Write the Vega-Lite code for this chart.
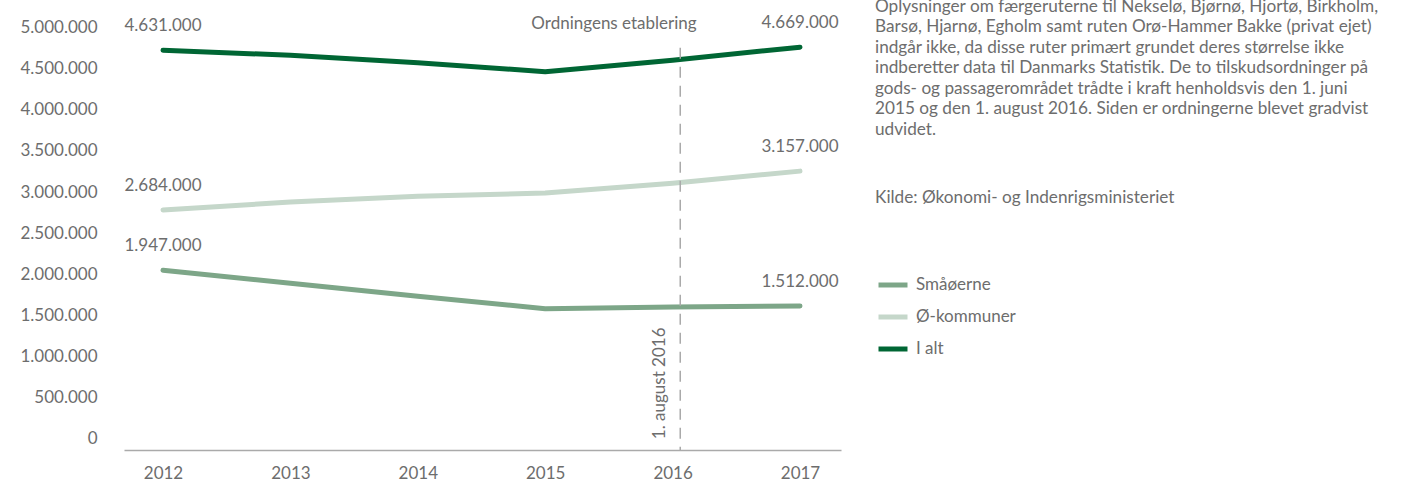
{
  "$schema": "https://vega.github.io/schema/vega-lite/v6.json",
  "width": 717,
  "height": 440,
  "autosize": {"type": "none"},
  "padding": {"left": 124, "top": 10, "right": 566, "bottom": 34},
  "background": "white",
  "config": {
    "view": {"stroke": null},
    "font": "Lato",
    "locale": {"number": {"decimal": ",", "thousands": ".", "grouping": [3], "currency": ["", " kr."]}}
  },
  "title": {
    "text": [
      "Oplysninger om færgeruterne til Nekselø, Bjørnø, Hjortø, Birkholm,",
      "Barsø, Hjarnø, Egholm samt ruten Orø-Hammer Bakke (privat ejet)",
      "indgår ikke, da disse ruter primært grundet deres størrelse ikke",
      "indberetter data til Danmarks Statistik. De to tilskudsordninger på",
      "gods- og passagerområdet trådte i kraft henholdsvis den 1. juni",
      "2015 og den 1. august 2016. Siden er ordningerne blevet gradvist",
      "udvidet."
    ],
    "subtitle": "Kilde: Økonomi- og Indenrigsministeriet",
    "anchor": "start",
    "frame": "group",
    "orient": "top",
    "baseline": "top",
    "dx": 751,
    "offset": -196,
    "font": "Lato",
    "fontSize": 17.2,
    "fontWeight": "normal",
    "color": "#6d6d6d",
    "lineHeight": 20.5,
    "subtitleFont": "Lato",
    "subtitleFontSize": 17.2,
    "subtitleColor": "#6d6d6d",
    "subtitlePadding": 51
  },
  "datasets": {
    "series": [
      {"year": 2012, "serie": "Småøerne", "value": 1947000},
      {"year": 2013, "serie": "Småøerne", "value": 1790000},
      {"year": 2014, "serie": "Småøerne", "value": 1630000},
      {"year": 2015, "serie": "Småøerne", "value": 1480000},
      {"year": 2016, "serie": "Småøerne", "value": 1500000},
      {"year": 2017, "serie": "Småøerne", "value": 1512000},
      {"year": 2012, "serie": "Ø-kommuner", "value": 2684000},
      {"year": 2013, "serie": "Ø-kommuner", "value": 2780000},
      {"year": 2014, "serie": "Ø-kommuner", "value": 2850000},
      {"year": 2015, "serie": "Ø-kommuner", "value": 2890000},
      {"year": 2016, "serie": "Ø-kommuner", "value": 3010000},
      {"year": 2017, "serie": "Ø-kommuner", "value": 3157000},
      {"year": 2012, "serie": "I alt", "value": 4631000},
      {"year": 2013, "serie": "I alt", "value": 4570000},
      {"year": 2014, "serie": "I alt", "value": 4480000},
      {"year": 2015, "serie": "I alt", "value": 4370000},
      {"year": 2016, "serie": "I alt", "value": 4510000},
      {"year": 2017, "serie": "I alt", "value": 4669000}
    ],
    "events": [
      {"label": "1. august 2016", "x": 2016.06, "top": 4662000, "bottom": -243900, "lx": 2015.901, "ly": 569500},
      {"label": "Ordningens etablering", "x": 2015.54, "top": 4951000, "bottom": 4951000, "lx": 2015.54, "ly": 4951000}
    ]
  },
  "layer": [
    {
      "data": {"name": "series"},
      "mark": {"type": "line", "strokeWidth": 5, "strokeCap": "round", "strokeJoin": "round"},
      "encoding": {
        "x": {
          "field": "year",
          "type": "quantitative",
          "scale": {"domain": [2011.6939, 2017.3218], "nice": false, "zero": false},
          "axis": {
            "title": null,
            "values": [2012, 2013, 2014, 2015, 2016, 2017],
            "format": "d",
            "grid": false,
            "ticks": false,
            "domainColor": "#aaaaaa",
            "domainWidth": 1.5,
            "labelPadding": 15,
            "labelFontSize": 17,
            "labelColor": "#6d6d6d",
            "labelFont": "Lato"
          }
        },
        "y": {
          "field": "value",
          "type": "quantitative",
          "scale": {"domain": [-243900, 5121950], "nice": false, "zero": false},
          "axis": {
            "title": null,
            "values": [0, 500000, 1000000, 1500000, 2000000, 2500000, 3000000, 3500000, 4000000, 4500000, 5000000],
            "format": ",d",
            "grid": false,
            "ticks": false,
            "domain": false,
            "labelOffset": 8,
            "labelPadding": 27,
            "labelFontSize": 17,
            "labelColor": "#6d6d6d",
            "labelFont": "Lato"
          }
        },
        "color": {
          "field": "serie",
          "type": "nominal",
          "scale": {"domain": ["Småøerne", "Ø-kommuner", "I alt"], "range": ["#7da688", "#c5d7ca", "#006634"]},
          "legend": {
            "title": null,
            "orient": "none",
            "legendX": 752,
            "legendY": 258,
            "symbolType": "stroke",
            "symbolSize": 841,
            "symbolStrokeWidth": 5,
            "labelFontSize": 17,
            "labelColor": "#6d6d6d",
            "labelFont": "Lato",
            "labelOffset": 6,
            "rowPadding": 5,
            "padding": 0
          }
        }
      }
    },
    {
      "data": {"name": "series"},
      "transform": [{"filter": "datum.year == 2012 || datum.year == 2017"}],
      "mark": {"type": "text", "dy": -24, "align": "center", "baseline": "middle", "fontSize": 17, "color": "#6d6d6d", "font": "Lato"},
      "encoding": {
        "x": {"field": "year", "type": "quantitative"},
        "y": {"field": "value", "type": "quantitative"},
        "text": {"field": "value", "type": "quantitative", "format": ",d"}
      }
    },
    {
      "data": {"name": "events"},
      "transform": [{"filter": "datum.label == '1. august 2016'"}],
      "mark": {"type": "rule", "color": "#aaaaaa", "strokeWidth": 1.5, "strokeDash": [11, 8]},
      "encoding": {
        "x": {"field": "x", "type": "quantitative"},
        "y": {"field": "top", "type": "quantitative"},
        "y2": {"field": "bottom"}
      }
    },
    {
      "data": {"name": "events"},
      "transform": [{"filter": "datum.label == 'Ordningens etablering'"}],
      "mark": {"type": "text", "align": "center", "baseline": "middle", "fontSize": 17, "color": "#6d6d6d", "font": "Lato"},
      "encoding": {
        "x": {"field": "lx", "type": "quantitative"},
        "y": {"field": "ly", "type": "quantitative"},
        "text": {"field": "label"}
      }
    },
    {
      "data": {"name": "events"},
      "transform": [{"filter": "datum.label == '1. august 2016'"}],
      "mark": {"type": "text", "align": "center", "baseline": "middle", "angle": 270, "fontSize": 17, "color": "#6d6d6d", "font": "Lato"},
      "encoding": {
        "x": {"field": "lx", "type": "quantitative"},
        "y": {"field": "ly", "type": "quantitative"},
        "text": {"field": "label"}
      }
    }
  ]
}
